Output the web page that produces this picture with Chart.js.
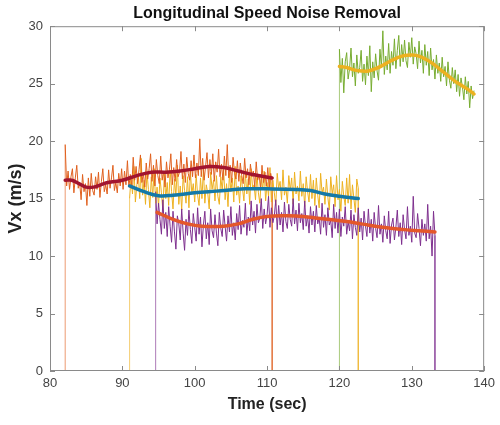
<!DOCTYPE html>
<html>
<head>
<meta charset="utf-8">
<script src="https://cdn.jsdelivr.net/npm/chart.js@4.4.0/dist/chart.umd.min.js"></script>
<style>
  html, body { margin: 0; padding: 0; background: #fff; }
  #wrap { width: 500px; height: 425px; }
</style>
</head>
<body>
<div id="wrap"><canvas id="speedChart" width="500" height="425"></canvas></div>
<script>
// Longitudinal speed: raw (noisy) signals and their filtered curves

const xTicks = [80, 90, 100, 110, 120, 130, 140];
const yTicks = [0, 5, 10, 15, 20, 25, 30];

// raw signals: start time, sample step (sec)
const orangeStart = 82.1, orangeStep = 0.2;
const orangeRaw = [
  19.7, 16.1, 17.4, 15.8, 16.9, 17.6, 15.5, 16.8, 17.9, 15.9,
  16.4, 14.9, 17.1, 15.6, 16.3, 14.4, 16.8, 15.2, 17.2, 15.7,
  15.3, 16.9, 15.8, 17.3, 15.1, 16.5, 17.6, 15.6, 16.2, 15.4,
  17.5, 15.9, 16.8, 17.9, 15.7, 16.4, 15.5, 17.2, 16.1, 17.6,
  15.8, 17.4, 16.2, 18.3, 16.0, 17.1, 15.9, 18.6, 16.6, 17.8,
  16.3, 17.5, 18.8, 16.4, 17.2, 16.0, 18.1, 16.7, 17.6, 18.9,
  16.5, 17.9, 16.1, 18.4, 17.0, 16.3, 18.7, 16.6, 17.4, 16.0,
  18.2, 16.8, 17.5, 18.9, 16.2, 17.7, 16.5, 18.4, 16.9, 17.3,
  19.1, 16.7, 18.0, 16.4, 18.6, 17.2, 16.6, 18.3, 16.9, 18.8,
  16.8, 18.1, 17.0, 20.2, 16.9, 18.5, 16.6, 17.8, 19.0, 16.8,
  18.4, 17.1, 18.9, 16.5, 18.2, 17.3, 19.3, 16.9, 18.0, 16.6,
  18.7, 17.0, 19.7, 16.8, 17.9, 16.4, 18.6, 17.2, 16.7, 18.3,
  16.5, 18.1, 17.0, 16.3, 18.5, 16.8, 17.6, 16.2, 18.0, 16.9,
  17.4, 16.0, 18.2, 16.6, 17.1, 15.8, 17.9, 16.4, 17.3, 16.1,
  17.7, 15.9, 17.2, 16.5
];

const yellowStart = 91.0, yellowStep = 0.2;
const yellowRaw = [
  15.0, 16.9, 15.4, 17.8, 14.7, 16.2, 17.1, 15.0, 18.5, 15.3,
  16.6, 14.5, 17.3, 15.8, 14.2, 16.9, 15.1, 17.6, 14.6, 16.0,
  14.3, 16.8, 15.5, 13.9, 17.2, 15.0, 16.4, 14.4, 17.5, 15.6,
  14.1, 16.7, 15.2, 17.9, 14.5, 16.1, 14.0, 17.0, 15.7, 14.6,
  16.9, 14.2, 17.4, 15.4, 16.3, 14.7, 17.1, 15.3, 14.4, 16.8,
  15.0, 17.6, 14.6, 16.2, 15.5, 14.1, 17.3, 15.8, 16.6, 14.8,
  17.0, 15.2, 14.5, 16.9, 15.7, 17.5, 14.9, 16.3, 14.3, 17.2,
  15.6, 16.8, 14.7, 17.8, 15.3, 16.1, 14.6, 17.0, 15.9, 14.8,
  17.3, 15.4, 16.7, 14.5, 17.6, 15.9, 16.2, 14.9, 17.1, 15.5,
  14.6, 16.9, 15.8, 17.4, 14.8, 16.4, 15.2, 17.7, 14.7, 16.6,
  15.5, 14.4, 17.2, 15.9, 16.5, 14.9, 17.5, 15.3, 16.0, 14.6,
  17.0, 15.7, 16.8, 14.5, 17.3, 15.4, 16.1, 14.8, 17.4, 15.2,
  16.3, 14.3, 16.9, 15.6, 14.7, 17.1, 15.0, 16.6, 14.4, 16.8,
  15.3, 14.2, 17.2, 15.5, 16.0, 14.5, 16.7, 15.1, 14.0, 16.9,
  15.4, 16.2, 14.3, 17.0, 14.9, 15.8, 13.9, 16.5, 15.2, 14.4,
  16.8, 14.6, 17.1, 14.1, 16.2, 15.0, 13.8, 16.7, 15.9
];

const purpleStart = 94.6, purpleStep = 0.2;
const purpleRaw = [
  15.6, 12.8, 14.6, 13.2, 11.9, 14.9, 12.4, 13.8, 11.7, 14.3,
  12.6, 11.2, 13.9, 12.1, 10.6, 13.5, 12.8, 11.4, 14.1, 12.0,
  10.5, 13.2, 11.8, 14.0, 12.3, 11.1, 13.7, 12.5, 11.3, 14.2,
  11.9, 13.4, 10.8, 12.7, 13.9, 11.5, 12.9, 11.0, 14.1, 12.2,
  11.6, 13.6, 12.0, 10.9, 13.8, 12.4, 11.7, 14.0, 12.6, 11.3,
  13.5, 12.1, 14.3, 11.8, 12.9, 11.4, 13.7, 12.3, 14.4, 11.9,
  13.1, 12.5, 14.6, 11.8, 13.4, 12.2, 14.8, 12.7, 13.9, 12.0,
  14.5, 12.9, 13.3, 15.0, 12.4, 14.1, 12.8, 13.6, 15.2, 12.5,
  14.2, 12.9, 13.5, 14.9, 12.3, 14.4, 12.7, 13.8, 12.1, 14.7,
  13.0, 12.4, 14.5, 13.2, 12.6, 15.0, 12.8, 14.0, 12.2, 14.6,
  12.9, 13.7, 12.3, 14.8, 12.6, 13.5, 12.0, 14.3, 12.7, 13.9,
  12.1, 14.4, 12.8, 13.3, 11.9, 14.6, 12.5, 13.6, 11.8, 14.2,
  12.7, 13.1, 11.6, 14.5, 12.4, 13.8, 12.0, 14.1, 11.7, 13.4,
  12.6, 14.3, 11.9, 13.0, 12.2, 14.0, 11.5, 13.6, 12.5, 11.8,
  14.2, 12.1, 13.3, 11.4, 13.9, 12.6, 11.7, 14.1, 12.0, 13.2,
  11.3, 13.8, 12.4, 11.6, 14.4, 11.9, 12.8, 11.2, 13.5, 12.2,
  11.5, 13.9, 11.1, 12.7, 13.3, 11.4, 12.5, 14.0, 11.7, 12.9,
  11.0, 13.6, 12.3, 11.5, 14.3, 11.8, 12.6, 11.2, 15.2, 12.0,
  11.6, 13.7, 12.4, 10.9, 13.2, 11.8, 12.8, 11.3, 14.5, 11.5,
  12.6, 10.0, 13.9, 11.8
];

const greenStart = 120.0, greenStep = 0.2;
const greenRaw = [
  28.0, 25.1, 27.2, 24.2, 26.9, 27.7, 25.4, 26.3, 28.1, 25.6,
  26.8, 24.8, 27.5, 25.9, 26.4, 27.9, 25.2, 26.7, 24.9, 27.4,
  25.7, 28.3, 24.3, 26.9, 25.5, 27.6, 26.1, 25.3, 28.0, 26.4,
  29.6, 25.8, 27.4, 26.2, 28.5, 25.9, 27.8, 26.6, 28.9, 26.3,
  27.9, 29.2, 26.5, 28.4, 26.9, 28.8, 27.0, 26.4, 28.6, 27.3,
  29.0, 26.7, 28.2, 27.6, 26.3, 28.7, 26.8, 27.9, 25.9, 28.4,
  26.6, 27.8, 25.7, 28.1, 26.2, 27.1, 25.4, 27.5, 25.9, 26.8,
  25.2, 27.3, 25.6, 26.5, 24.8, 26.9, 25.3, 24.6, 26.4, 25.0,
  26.2, 24.3, 25.8, 23.9, 25.5, 24.7, 23.6, 25.6, 24.1, 25.2,
  22.9, 24.8, 23.7, 24.4
];

// filtered curves
const redT    = [82.1, 83, 84, 85, 86, 87, 88, 90, 92, 94, 96, 98, 100, 102, 104, 106, 108, 110.7];
const redV    = [16.6, 16.6, 16.3, 16.0, 16.0, 16.2, 16.4, 16.6, 17.0, 17.3, 17.3, 17.4, 17.6, 17.8, 17.7, 17.4, 17.1, 16.8];
const blueT   = [91.0, 93, 95, 97, 100, 103, 107, 110, 114, 116, 118, 120, 122.6];
const blueV   = [16.1, 15.6, 15.25, 15.3, 15.5, 15.65, 15.85, 15.85, 15.8, 15.7, 15.4, 15.2, 15.0];
const ochreT  = [94.8, 97, 99, 101, 104, 106, 108, 110, 113, 115, 117, 119, 121, 123, 126, 129, 131, 133.2];
const ochreV  = [13.8, 13.2, 12.8, 12.6, 12.6, 12.8, 13.2, 13.45, 13.5, 13.45, 13.3, 13.15, 13.0, 12.8, 12.5, 12.3, 12.2, 12.1];
const goldT   = [120, 121, 122, 123, 124, 125, 126, 127, 128, 129, 130, 131, 132, 133, 134, 135, 136, 137, 138, 138.6];
const goldV   = [26.5, 26.4, 26.2, 26.1, 26.1, 26.3, 26.6, 26.95, 27.25, 27.45, 27.5, 27.4, 27.1, 26.7, 26.2, 25.7, 25.2, 24.8, 24.4, 24.1];

// raw signal -> points
function rawPoints(start, step, vals){
  return vals.map((v, i) => ({ x: +(start + i * step).toFixed(2), y: v }));
}

// drop lines to 0 at the start (and end) of a raw signal
function dropPoints(start, step, vals, dropEnd){
  const pts = [{ x: start, y: 0 }, { x: start, y: vals[0] }, { x: null, y: null }];
  if(dropEnd){
    const tEnd = +(start + (vals.length - 1) * step).toFixed(2);
    pts.push({ x: tEnd, y: vals[vals.length - 1] }, { x: tEnd, y: 0 });
  }
  return pts;
}

function curvePoints(ts, vs){
  return ts.map((t, i) => ({ x: t, y: vs[i] }));
}

function rawSet(pts, color){
  return { data: pts, borderColor: color, borderWidth: 1, pointRadius: 0, tension: 0 };
}
function dropSet(pts, color){
  // the drop lines show up paler in the original
  return { data: pts, borderColor: color + 'A0', borderWidth: 1, pointRadius: 0, tension: 0, spanGaps: false };
}
function curveSet(pts, color){
  return { data: pts, borderColor: color, borderWidth: 3.5, pointRadius: 0, tension: 0.4, borderCapStyle: 'round' };
}

// MATLAB-like box with inward ticks
const boxTicks = {
  id: 'boxTicks',
  afterDraw(chart){
    const { ctx, chartArea: a, scales } = chart;
    ctx.save();
    ctx.strokeStyle = '#8a8a8a';
    ctx.lineWidth = 1;
    ctx.strokeRect(a.left + 0.5, a.top + 0.5, a.right - a.left - 1, a.bottom - a.top - 1);
    ctx.beginPath();
    xTicks.forEach(v => {
      const px = Math.round(scales.x.getPixelForValue(v)) + 0.5;
      ctx.moveTo(px, a.bottom); ctx.lineTo(px, a.bottom - 5);
      ctx.moveTo(px, a.top); ctx.lineTo(px, a.top + 5);
    });
    yTicks.forEach(v => {
      const py = Math.round(scales.y.getPixelForValue(v)) + 0.5;
      ctx.moveTo(a.left, py); ctx.lineTo(a.left + 5, py);
      ctx.moveTo(a.right, py); ctx.lineTo(a.right - 5, py);
    });
    ctx.stroke();
    ctx.restore();
  }
};

const ctx = document.getElementById('speedChart').getContext('2d');
new Chart(ctx, {
  type: 'line',
  data: {
    datasets: [
      curveSet(curvePoints(goldT, goldV), '#EDB120'),
      curveSet(curvePoints(ochreT, ochreV), '#E4572A'),
      curveSet(curvePoints(blueT, blueV), '#1479A8'),
      curveSet(curvePoints(redT, redV), '#A2142F'),
      rawSet(rawPoints(greenStart, greenStep, greenRaw), '#77AC30'),
      rawSet(rawPoints(purpleStart, purpleStep, purpleRaw), '#7E2F8E'),
      rawSet(rawPoints(orangeStart, orangeStep, orangeRaw), '#E0601E'),
      rawSet(rawPoints(yellowStart, yellowStep, yellowRaw), '#EDB120'),
      dropSet(dropPoints(greenStart, greenStep, greenRaw, false), '#77AC30'),
      dropSet(dropPoints(purpleStart, purpleStep, purpleRaw, true), '#7E2F8E'),
      dropSet(dropPoints(orangeStart, orangeStep, orangeRaw, true), '#E0601E'),
      dropSet(dropPoints(yellowStart, yellowStep, yellowRaw, true), '#EDB120')
    ]
  },
  options: {
    responsive: false,
    animation: false,
    layout: { padding: { right: 13 } },
    plugins: {
      legend: { display: false },
      tooltip: { enabled: false },
      title: {
        display: true,
        text: 'Longitudinal Speed Noise Removal',
        fullSize: false,
        color: '#111',
        font: { family: 'Liberation Sans', size: 16, weight: 'bold' },
        padding: { top: 4, bottom: 3 }
      }
    },
    scales: {
      x: {
        type: 'linear',
        min: 80, max: 140,
        afterBuildTicks: s => { s.ticks = xTicks.map(v => ({ value: v })); },
        afterFit: s => { s.height = 54; },
        grid: { drawOnChartArea: false, drawTicks: false },
        border: { display: false },
        ticks: { color: '#444', padding: 5, maxRotation: 0, font: { family: 'Liberation Sans', size: 13 } },
        title: {
          display: true, text: 'Time (sec)', color: '#222',
          font: { family: 'Liberation Sans', size: 16, weight: 'bold' },
          padding: { top: 0, bottom: 11 }
        }
      },
      y: {
        min: 0, max: 30,
        afterBuildTicks: s => { s.ticks = yTicks.map(v => ({ value: v })); },
        afterFit: s => { s.width = 50; },
        grid: { drawOnChartArea: false, drawTicks: false },
        border: { display: false },
        ticks: { color: '#444', padding: 7, font: { family: 'Liberation Sans', size: 13 } },
        title: {
          display: true, text: 'Vx (m/s)', color: '#222',
          font: { family: 'Liberation Sans', size: 18, weight: 'bold' },
          padding: { top: 5, bottom: 0 }
        }
      }
    }
  },
  plugins: [boxTicks]
});
</script>
</body>
</html>
